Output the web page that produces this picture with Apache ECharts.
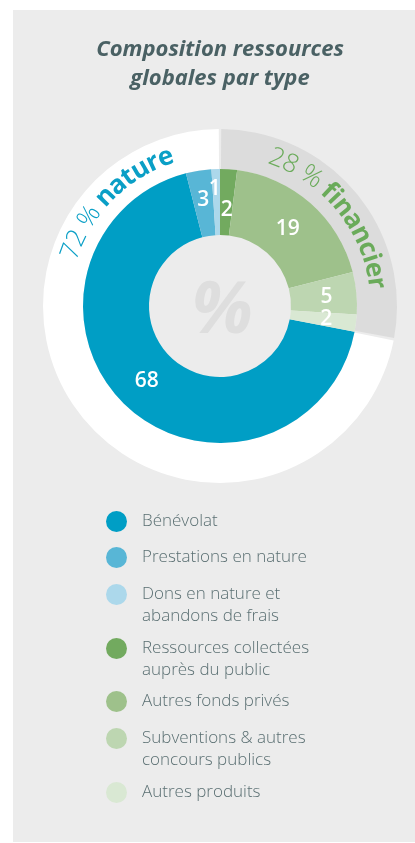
<!DOCTYPE html>
<html>
<head>
<meta charset="utf-8">
<title>Composition ressources globales par type</title>
<script src="https://cdn.jsdelivr.net/npm/echarts@6/dist/echarts.min.js"></script>
<style>
html, body { margin: 0; padding: 0; background: #fff; }
#wrap { position: relative; width: 415px; height: 843px; }
.panel { position: absolute; left: 13px; top: 10px; right: 0; bottom: 1px; background: #ececec; }
#chart { position: absolute; left: 0; top: 0; width: 415px; height: 843px; }
</style>
</head>
<body>
<div id="wrap"><div class="panel"></div><div id="chart"></div></div>
<script>
// 数据
var categories = ['Bénévolat', 'Prestations en nature', 'Dons en nature et\nabandons de frais',
    'Ressources collectées\nauprès du public', 'Autres fonds privés',
    'Subventions & autres\nconcours publics', 'Autres produits'];
var values = [68, 3, 1, 2, 19, 5, 2];
var colors = ['#009ec5', '#58b6d6', '#acd8eb', '#72aa5f', '#9ec18b', '#bdd6b1', '#d9e8d3'];

var groupNames = ['nature', 'financier'];
var groupValues = [72, 28];
var groupColors = ['#ffffff', '#dcdcdc'];
var groupTextColors = ['#0a9fc6', '#6aab5a'];

// 布局
var cx = 220, cy = 306;
var labelOffsets = [[0, -3], [0, 0], [-2, -10], [0, 11], [-3, 3], [0, 1], [0, 0]];
var legendCenters = [521, 557, 593, 647, 701, 737, 792]; // 图例圆点中心 y
var arcMid = [315, 51];   // 外圈文字中心角度(顺时针, 从顶部)
var arcR = 158;
var arcFont = 26;
var font = '"Open Sans", "Noto Sans", sans-serif';

// financier 从顶部开始顺时针
var startAngle = 90 - 360 * groupValues[1] / 100;

var ctx = document.createElement('canvas').getContext('2d');
function arcText(parts, midDeg, r, color) {
    var chars = [];
    var total = 0;
    parts.forEach(function (p) {
        var f = p.weight + ' ' + arcFont + 'px ' + font;
        ctx.font = f;
        for (var i = 0; i < p.text.length; i++) {
            var w = ctx.measureText(p.text[i]).width;
            chars.push({ ch: p.text[i], w: w, font: f });
            total += w;
        }
    });
    var a = midDeg * Math.PI / 180 - total / 2 / r;
    var out = [];
    chars.forEach(function (c) {
        var ang = a + c.w / 2 / r;
        a += c.w / r;
        if (c.ch === ' ') return;
        out.push({
            type: 'text',
            silent: true,
            z: 100,
            x: cx + r * Math.sin(ang),
            y: cy - r * Math.cos(ang),
            rotation: -ang,
            style: { text: c.ch, font: c.font, fill: color, align: 'center', verticalAlign: 'middle' }
        });
    });
    return out;
}

var graphics = [{
    type: 'text',
    silent: true,
    z: 100,
    x: 222, y: 312,
    style: { text: '%', font: 'italic bold 72px ' + font, fill: '#dedede', align: 'center', verticalAlign: 'middle' }
}];
for (var g = 0; g < groupNames.length; g++) {
    graphics = graphics.concat(arcText([
        { text: groupValues[g] + ' % ', weight: 300 },
        { text: groupNames[g], weight: 700 }
    ], arcMid[g], arcR, groupTextColors[g]));
}

// 图例: 每项一个; 两行的文字前加一空行, 让首行与圆点对齐
var legends = categories.map(function (n, i) {
    var twoLines = n.indexOf('\n') >= 0;
    return {
        orient: 'vertical',
        left: 106,
        top: legendCenters[i] - 10.5 - (twoLines ? 21 : 0),
        padding: 0,
        itemWidth: 21,
        itemHeight: 21,
        icon: 'circle',
        selectedMode: false,
        formatter: function (name) {
            return name.indexOf('\n') >= 0 ? '\n' + name : name;
        },
        textStyle: {
            fontFamily: font,
            fontWeight: 300,
            fontSize: 17,
            lineHeight: 22,
            color: '#5a6f72',
            padding: [0, 0, 0, 10]
        },
        data: [n]
    };
});

var chart = echarts.init(document.getElementById('chart'));
var option = {
    animation: false,
    title: {
        text: 'Composition ressources\nglobales par type',
        left: 215,
        top: 30,
        textAlign: 'center',
        textStyle: {
            fontFamily: font,
            fontStyle: 'italic',
            fontWeight: 'bold',
            fontSize: 22,
            lineHeight: 29,
            color: '#4a6164'
        }
    },
    legend: legends,
    graphic: graphics,
    series: [{
        type: 'pie',
        silent: true,
        center: [cx, cy],
        radius: [137, 177],
        startAngle: startAngle,
        clockwise: true,
        padAngle: 0.8,
        label: { show: false },
        labelLine: { show: false },
        data: groupNames.map(function (n, i) {
            return { name: n, value: groupValues[i], itemStyle: { color: groupColors[i] } };
        })
    }, {
        type: 'pie',
        silent: true,
        center: [cx, cy],
        radius: [71, 137],
        startAngle: startAngle,
        clockwise: true,
        labelLayout: { hideOverlap: false },
        label: {
            show: true,
            position: 'inside',
            formatter: '{c}',
            color: '#fff',
            fontFamily: font,
            fontWeight: 600,
            fontSize: 21
        },
        labelLine: { show: false },
        data: categories.map(function (n, i) {
            return {
                name: n,
                value: values[i],
                itemStyle: { color: colors[i] },
                label: { offset: labelOffsets[i] }
            };
        })
    }]
};
chart.setOption(option);

window.addEventListener('resize', function () {
    chart.resize();
});
</script>
</body>
</html>
